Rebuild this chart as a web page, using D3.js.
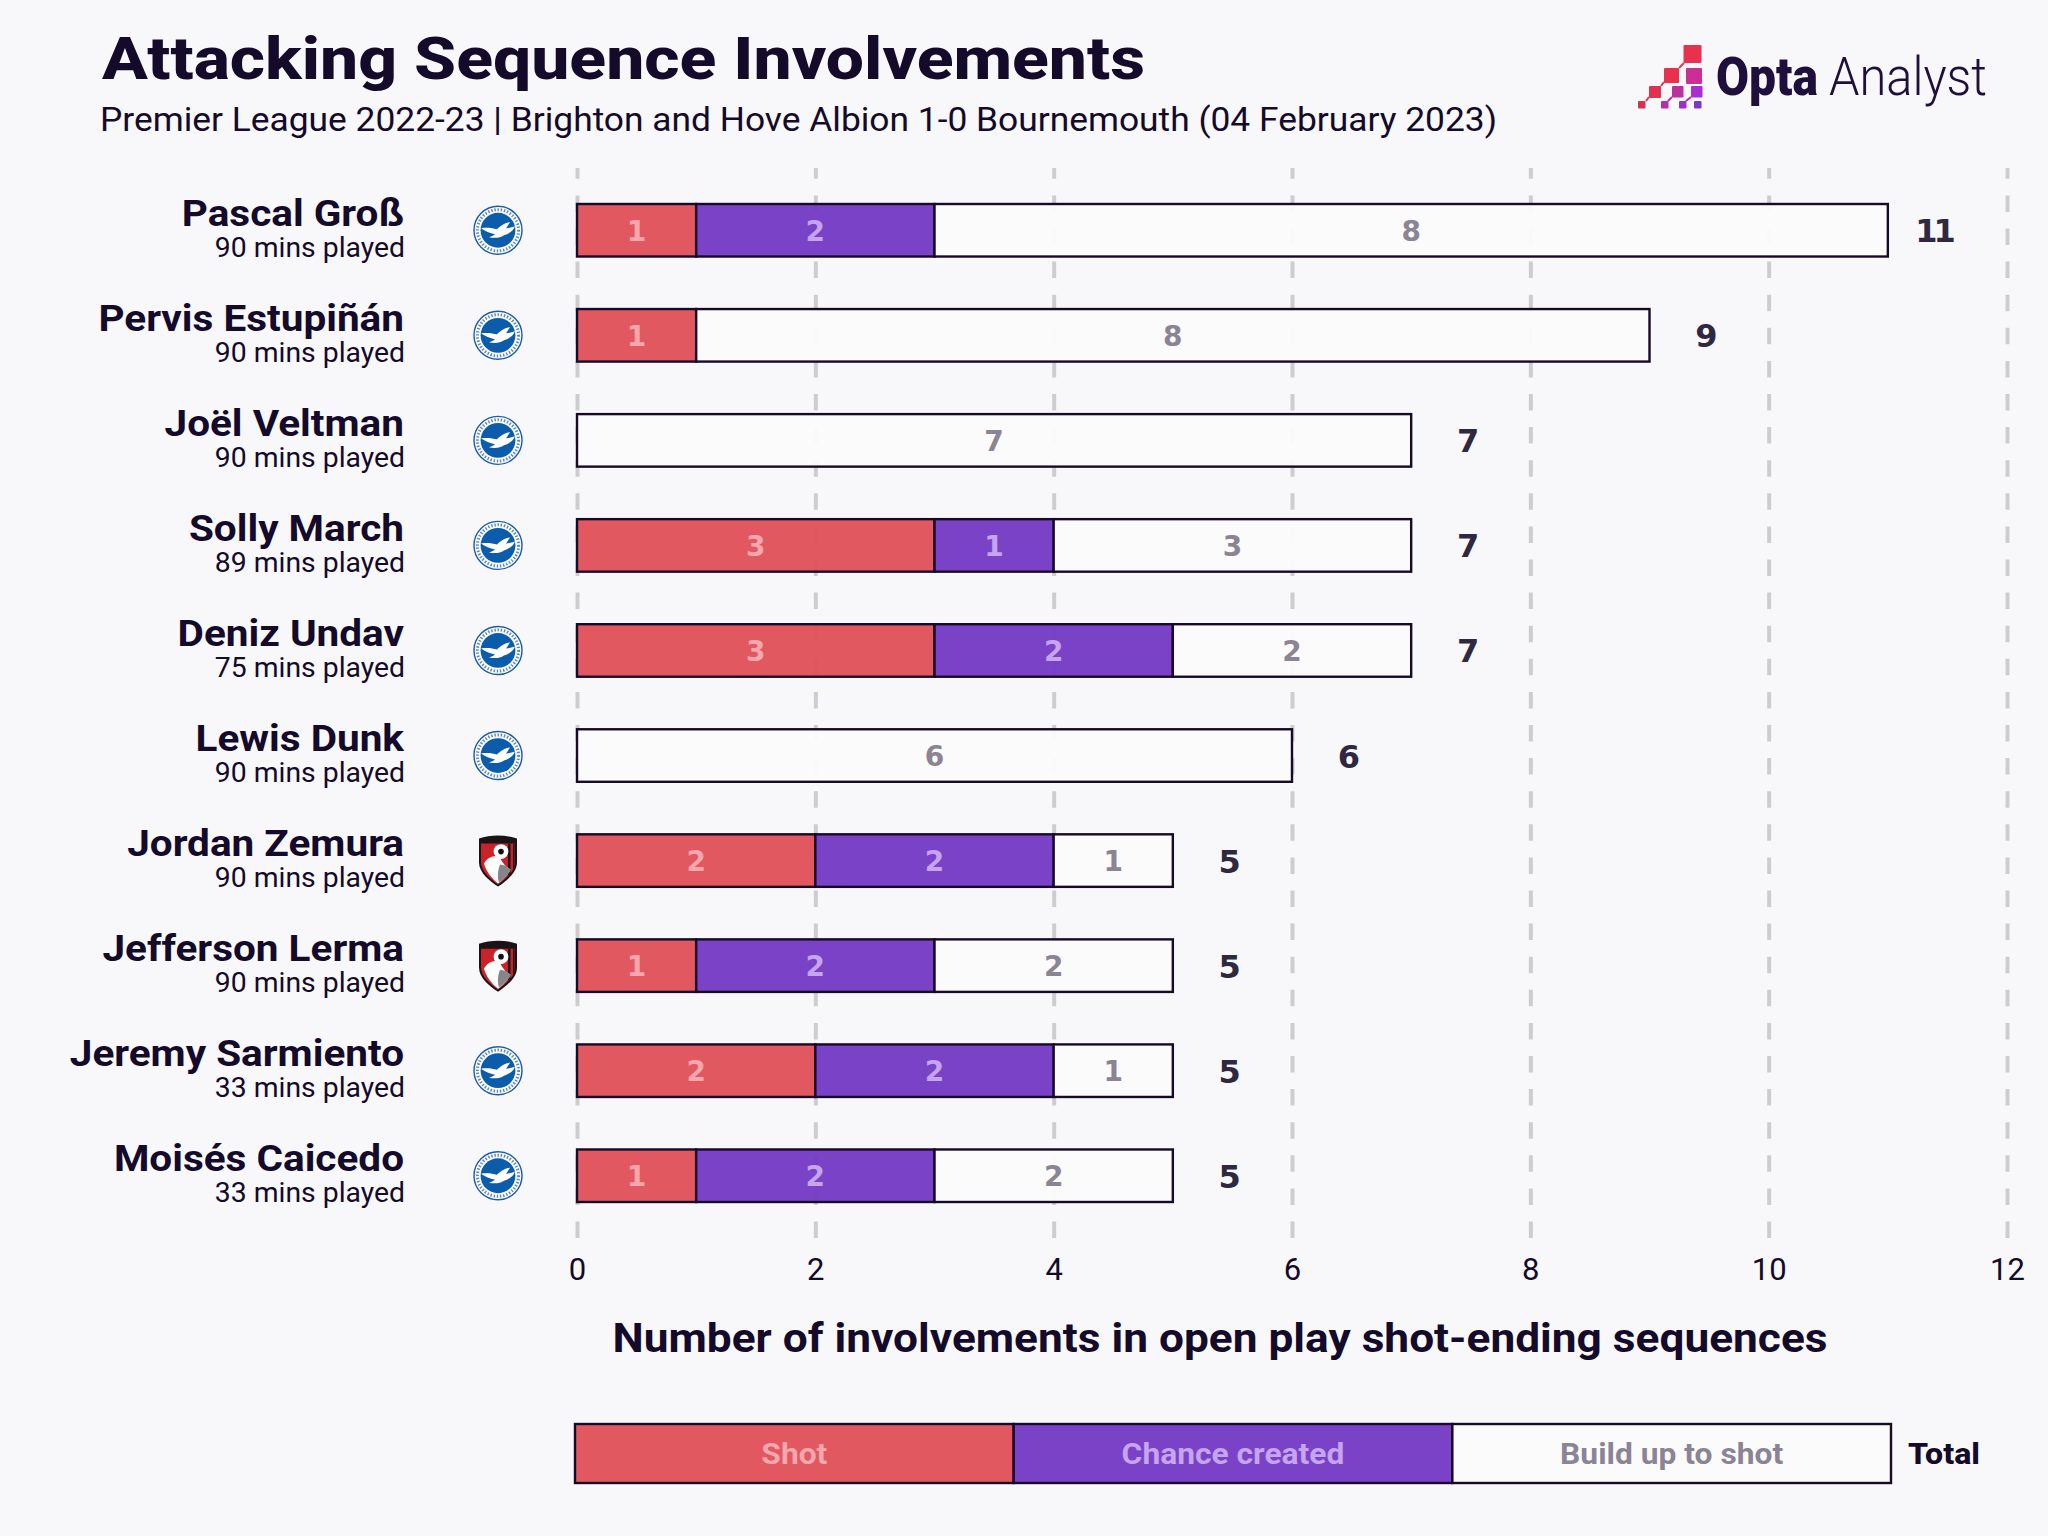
<!DOCTYPE html>
<html>
<head>
<meta charset="utf-8">
<script src="https://cdnjs.cloudflare.com/ajax/libs/d3/7.8.5/d3.min.js"></script>
<style>
  html, body { margin: 0; padding: 0; background: #f8f8fa; }
  svg { display: block; }
  text { font-family: Roboto, sans-serif; fill: #140a2a; }
</style>
</head>
<body>
<script>
const players = ['Pascal Groß', 'Pervis Estupiñán', 'Joël Veltman', 'Solly March', 'Deniz Undav',
  'Lewis Dunk', 'Jordan Zemura', 'Jefferson Lerma', 'Jeremy Sarmiento', 'Moisés Caicedo'];
const minutes = [90, 90, 90, 89, 75, 90, 90, 90, 33, 33];
const clubs = ['BHA', 'BHA', 'BHA', 'BHA', 'BHA', 'BHA', 'BOU', 'BOU', 'BHA', 'BHA'];
const shots = [1, 1, 0, 3, 3, 0, 2, 1, 2, 1];
const chances = [2, 0, 0, 1, 2, 0, 2, 2, 2, 2];
const buildUps = [8, 8, 7, 3, 2, 6, 1, 2, 1, 2];
const totals = [11, 9, 7, 7, 7, 6, 5, 5, 5, 5];
const xTicks = [0, 2, 4, 6, 8, 10, 12];
const seriesNames = ['Shot', 'Chance created', 'Build up to shot'];
const seriesFill = ['#df4f58', '#7339c4', '#fbfbfc'];
const seriesInk = ['#f6a6ad', '#c6a4ee', '#8a8495'];

const table = players.map((p, i) => ({
  player: p, 'Shot': shots[i], 'Chance created': chances[i], 'Build up to shot': buildUps[i]
}));

const svg = d3.select('body').append('svg')
  .attr('width', 2048)
  .attr('height', 1536);

const x = d3.scaleLinear().domain([0, 12]).range([577, 2007]);
const y = d3.scaleBand().domain(players).range([204, 1202]).paddingInner(0.5);
const colour = d3.scaleOrdinal().domain(seriesNames).range(seriesFill);
const ink = d3.scaleOrdinal().domain(seriesNames).range(seriesInk);

function put(txt, px, py, size, weight, anchor, width) {
  const t = svg.append('text')
    .attr('x', px).attr('y', py)
    .attr('font-size', size).attr('font-weight', weight)
    .attr('text-anchor', anchor || 'start')
    .text(txt);
  if (width) t.attr('textLength', width).attr('lengthAdjust', 'spacingAndGlyphs');
  return t;
}

// the original face is wider than Roboto, so stretch by a factor
function widen(sel, k) {
  sel.each(function () {
    d3.select(this)
      .attr('textLength', this.getComputedTextLength() * k)
      .attr('lengthAdjust', 'spacingAndGlyphs');
  });
}

put('Attacking Sequence Involvements', 102, 79, 60, 800, 'start', 1043);
put('Premier League 2022-23 | Brighton and Hove Albion 1-0 Bournemouth (04 February 2023)', 100, 131, 33, 400, 'start', 1397);

// logo
const logoSquares = [
  [1683.5, 45, 18, '#e8304f'], [1664, 68, 15, '#e8304f'], [1686, 68, 16, '#c92f95'],
  [1649, 86, 12, '#e2304f'], [1672, 86, 11.5, '#bb2f9f'], [1691, 86, 11.5, '#a72fd0'],
  [1638, 101, 7.5, '#d8304f'], [1661, 101, 7.5, '#b030b0'], [1679, 101, 7.5, '#9a30c8'], [1694, 101, 7.5, '#7d35c8']
];
const logoLinks = [
  [1646, 101, 1649, 97, '#e2304f'], [1661, 86, 1664, 82, '#e8304f'], [1679, 68, 1684, 63, '#e8304f'],
  [1668, 101, 1672, 97, '#bb2f9f'], [1686, 101, 1691, 97, '#a72fd0']
];
svg.append('g').selectAll('line').data(logoLinks).join('line')
  .attr('x1', d => d[0]).attr('y1', d => d[1]).attr('x2', d => d[2]).attr('y2', d => d[3])
  .attr('stroke', d => d[4]).attr('stroke-width', 2);
svg.append('g').selectAll('rect').data(logoSquares).join('rect')
  .attr('x', d => d[0]).attr('y', d => d[1]).attr('width', d => d[2]).attr('height', d => d[2])
  .attr('rx', 1).attr('fill', d => d[3]);
put('Opta', 1716, 95, 54, 900, 'start', 102).style('fill', '#1e0f3c');
put('Analyst', 1829, 95, 54, 300, 'start', 158).style('fill', '#1e0f3c');

// axis and dashed grid, under the bars
const axis = svg.append('g')
  .attr('transform', 'translate(0,1238)')
  .call(d3.axisBottom(x).tickValues(xTicks).tickSizeInner(-1070).tickSizeOuter(0).tickPadding(20));
axis.select('.domain').remove();
axis.selectAll('line')
  .attr('stroke', '#cdcdcf').attr('stroke-width', 4).attr('stroke-dasharray', '16.5 16.6');
axis.selectAll('text')
  .attr('font-size', 31).attr('font-weight', 400)
  .style('font-family', 'Roboto, sans-serif').style('fill', '#140a2a');

// stacked bars
const stacked = d3.stack().keys(seriesNames)(table);
const groups = svg.append('g').selectAll('g').data(stacked).join('g');
const cells = groups.selectAll('g')
  .data(s => s.filter(d => d[1] > d[0]).map(d => ({ key: s.key, v0: d[0], v1: d[1], player: d.data.player })))
  .join('g');
cells.append('rect')
  .attr('x', d => x(d.v0))
  .attr('y', d => y(d.player))
  .attr('width', d => x(d.v1) - x(d.v0))
  .attr('height', y.bandwidth())
  .attr('fill', d => colour(d.key))
  .attr('fill-opacity', 0.95)
  .attr('stroke', '#170a28')
  .attr('stroke-width', 2.4);
cells.append('text')
  .attr('x', d => (x(d.v0) + x(d.v1)) / 2)
  .attr('y', d => y(d.player) + y.bandwidth() / 2 + 10.5)
  .attr('text-anchor', 'middle')
  .attr('font-size', 28).attr('font-weight', 700)
  .style('font-family', '"DejaVu Sans", sans-serif')
  .style('fill', d => ink(d.key))
  .text(d => d.v1 - d.v0);

// totals
svg.append('g').selectAll('text').data(totals).join('text')
  .attr('x', d => x(d) + 64)
  .attr('y', (d, i) => y(players[i]) + y.bandwidth() / 2 + 12)
  .attr('text-anchor', 'end')
  .attr('font-size', 32).attr('font-weight', 700)
  .attr('letter-spacing', -4)
  .style('font-family', '"DejaVu Sans", sans-serif')
  .style('fill', '#2e2840')
  .text(d => d);

// player labels
const nameLabels = svg.append('g').selectAll('text').data(players).join('text')
  .attr('x', 404)
  .attr('y', d => y(d) + 22)
  .attr('text-anchor', 'end')
  .attr('font-size', 36).attr('font-weight', 700)
  .text(d => d);
widen(nameLabels, 1.125);
const minuteLabels = svg.append('g').selectAll('text').data(minutes).join('text')
  .attr('x', 405)
  .attr('y', (d, i) => y(players[i]) + 53)
  .attr('text-anchor', 'end')
  .attr('font-size', 27).attr('font-weight', 400)
  .text(d => d + ' mins played');
widen(minuteLabels, 1.05);

// club crests
function drawBrighton(g) {
  g.append('circle').attr('r', 24).attr('fill', '#fbfcfe').attr('stroke', '#1a5ca8').attr('stroke-width', 1.4);
  g.append('circle').attr('r', 20.6).attr('fill', 'none').attr('stroke', '#5f86b8')
    .attr('stroke-width', 3).attr('stroke-dasharray', '1.4 1.8');
  g.append('circle').attr('r', 17.4).attr('fill', '#0b5cab');
  g.append('path')
    .attr('d', 'M-17,-2 C-11,-3 -5,-2 -1,-1 C2,-4 7,-8 12,-8 C10,-5 9,-3 8,-2 C11,-2 14,-3 17,-4 C15,1 10,4 6,5 C2,8 -4,8 -9,7 C-6,6 -4,5 -3,4 C-8,3 -13,1 -17,-2 Z')
    .attr('fill', '#fff');
}
function drawBournemouth(g) {
  g.append('path')
    .attr('d', 'M-19,-22 C-8,-26 8,-26 19,-22 L19,2 C19,12 8,21 0,26 C-8,21 -19,12 -19,2 Z')
    .attr('fill', '#1a1416');
  g.append('path')
    .attr('d', 'M-17,-17 L17,-17 L17,2 C17,11 7,19 0,24 C-7,19 -17,11 -17,2 Z')
    .attr('fill', '#c8232b');
  // stripes on the right of the shield
  g.append('path').attr('d', 'M10,-17 h2.5 V13 l-2.5,2 Z').attr('fill', '#1a1416');
  g.append('path').attr('d', 'M15,-17 h1.6 V6 l-1.6,3 Z').attr('fill', '#1a1416');
  g.append('path')
    .attr('d', 'M-14,3 C-11,-3 -4,-6 2,-4 C3,1 6,3 8,6 C12,8 13,10 11,12 C7,17 3,21 0,23 C-6,18 -12,11 -14,3 Z')
    .attr('fill', '#fff');
  g.append('path')
    .attr('d', 'M2,4 L7,5 L13,9 C10,14 5,19 1,22 C-1,16 0,9 2,4 Z')
    .attr('fill', '#85858a');
  g.append('circle').attr('cx', 3).attr('cy', -9).attr('r', 7.4).attr('fill', '#fff');
  g.append('circle').attr('cx', 3).attr('cy', -9).attr('r', 2.8).attr('fill', '#111');
}
svg.append('g').selectAll('g').data(clubs).join('g')
  .attr('transform', (d, i) => `translate(498,${y(players[i]) + y.bandwidth() / 2})`)
  .each(function (d) {
    if (d === 'BHA') drawBrighton(d3.select(this));
    else drawBournemouth(d3.select(this));
  });

// axis title
put('Number of involvements in open play shot-ending sequences', 1220, 1352, 40, 700, 'middle', 1215);

// legend
const legendX = d3.scaleBand().domain(seriesNames).range([575, 1891]);
const legend = svg.append('g').selectAll('g').data(seriesNames).join('g');
legend.append('rect')
  .attr('x', d => legendX(d)).attr('y', 1424)
  .attr('width', legendX.bandwidth()).attr('height', 59)
  .attr('fill', d => colour(d))
  .attr('fill-opacity', 0.95)
  .attr('stroke', '#170a28').attr('stroke-width', 2.4);
const legendLabels = legend.append('text')
  .attr('x', d => legendX(d) + legendX.bandwidth() / 2).attr('y', 1464)
  .attr('text-anchor', 'middle')
  .attr('font-size', 29).attr('font-weight', 700)
  .style('fill', d => ink(d))
  .text(d => d);
widen(legendLabels, 1.095);
put('Total', 1908, 1464, 29, 800, 'start', 72);
</script>
</body>
</html>
